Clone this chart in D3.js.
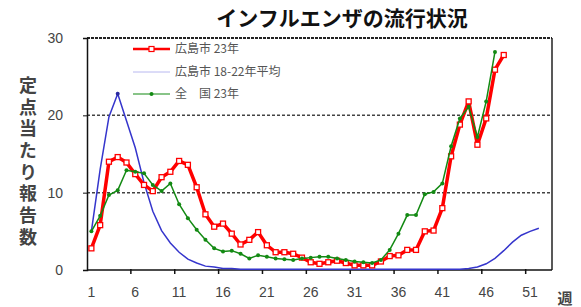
<!DOCTYPE html>
<html>
<head>
<meta charset="utf-8">
<script src="https://cdn.jsdelivr.net/npm/d3@7"></script>
<style>
body { margin: 0; background: #fff; }
svg { display: block; }
</style>
</head>
<body>
<svg></svg>
<script>
// weeks 1..53, labels every 5 weeks
const WEEKS = d3.range(1, 54);
const TICK_WEEKS = [1, 6, 11, 16, 21, 26, 31, 36, 41, 46, 51];
const Y_TICKS = [0, 10, 20, 30];

// 広島市 23年
const hiroshima23 = [2.8, 5.8, 14.0, 14.6, 13.9, 12.4, 11.0, 10.2, 12.0, 12.7,
  14.1, 13.6, 10.7, 7.2, 5.6, 6.0, 4.7, 3.3, 3.9, 4.9,
  3.2, 2.3, 2.3, 2.1, 1.6, 1.0, 0.8, 1.0, 1.2, 0.9,
  0.6, 0.6, 0.6, 1.1, 1.8, 1.9, 2.6, 2.6, 5.0, 5.1,
  8.0, 14.7, 18.8, 21.8, 16.2, 19.6, 25.9, 27.8];

// 広島市 18-22年平均
const hiroshimaAvg = [5.0, 13.0, 19.8, 22.8, 19.3, 15.8, 11.3, 7.6, 5.1, 3.5,
  2.3, 1.4, 0.9, 0.5, 0.4, 0.2, 0.2, 0.1, 0.1, 0.1,
  0.1, 0.1, 0.1, 0.1, 0.1, 0.1, 0.1, 0.1, 0.1, 0.1,
  0.1, 0.1, 0.1, 0.1, 0.1, 0.1, 0.1, 0.1, 0.1, 0.1,
  0.1, 0.1, 0.1, 0.2, 0.4, 0.8, 1.5, 2.5, 3.6, 4.5,
  5.0, 5.4];

// 全国 23年
const national23 = [5.0, 7.0, 9.7, 10.3, 12.9, 12.7, 12.5, 11.0, 10.2, 11.2,
  8.5, 6.7, 5.2, 3.9, 2.8, 2.4, 2.5, 2.1, 1.5, 1.9,
  1.7, 1.5, 1.4, 1.3, 1.5, 1.6, 1.7, 1.7, 1.5, 1.3,
  1.1, 1.0, 0.9, 1.3, 2.6, 4.7, 7.1, 7.1, 9.8, 10.1,
  11.2, 16.0, 19.6, 21.1, 17.2, 21.8, 28.2];

const WIDTH = 581, HEIGHT = 307;
const PLOT = {left: 87, right: 552, top: 38, bottom: 270};

const svg = d3.select('svg')
  .attr('width', WIDTH)
  .attr('height', HEIGHT)
  .style('font-family', '"Liberation Sans", Arial, sans-serif');

const xScale = d3.scaleBand().domain(WEEKS).range([PLOT.left, PLOT.right]).padding(0);
const yScale = d3.scaleLinear().domain([0, 30]).range([PLOT.bottom, PLOT.top]);
const cx = w => xScale(w) + xScale.bandwidth() / 2;

// title
svg.append('text')
  .attr('x', 342).attr('y', 26)
  .attr('text-anchor', 'middle')
  .style('font-family', '"Noto Sans CJK JP", sans-serif')
  .style('font-weight', 'bold')
  .style('font-size', '21px')
  .attr('fill', '#111')
  .text('インフルエンザの流行状況');

// y axis title, one vertical text
svg.append('text')
  .attr('x', 28)
  .attr('y', 76)
  .style('writing-mode', 'vertical-rl')
  .style('text-orientation', 'upright')
  .style('letter-spacing', '3.7px')
  .style('font-family', '"Noto Sans CJK JP", sans-serif')
  .style('font-size', '18px')
  .style('font-weight', 'bold')
  .attr('fill', '#444')
  .text('定点当たり報告数');

// gridlines
svg.append('g').selectAll('line')
  .data([10, 20])
  .enter()
  .append('line')
  .attr('x1', PLOT.left).attr('x2', PLOT.right)
  .attr('y1', d => yScale(d)).attr('y2', d => yScale(d))
  .attr('stroke', '#444')
  .attr('stroke-width', 1.5)
  .attr('stroke-dasharray', '3,2');

// frame: top dashed, right solid
svg.append('line')
  .attr('x1', PLOT.left).attr('x2', PLOT.right)
  .attr('y1', yScale(30)).attr('y2', yScale(30))
  .attr('stroke', '#222').attr('stroke-width', 2).attr('stroke-dasharray', '3,1');
svg.append('line')
  .attr('x1', PLOT.right).attr('x2', PLOT.right)
  .attr('y1', yScale(30)).attr('y2', yScale(0))
  .attr('stroke', '#222').attr('stroke-width', 1.5);

// y axis
const yAxis = svg.append('g')
  .attr('transform', `translate(${PLOT.left},0)`)
  .call(d3.axisLeft(yScale).tickValues(Y_TICKS).tickSize(4).tickPadding(20));
yAxis.select('.domain').attr('stroke', '#111').attr('stroke-width', 1.5);
yAxis.selectAll('.tick line').attr('stroke', '#111');
yAxis.selectAll('text').style('font-size', '14px').attr('fill', '#444');

// x axis: ticks on week boundaries, labels on week centres
const xAxis = svg.append('g').attr('transform', `translate(0,${PLOT.bottom})`);
xAxis.append('line')
  .attr('x1', PLOT.left).attr('x2', PLOT.right)
  .attr('stroke', '#111').attr('stroke-width', 1.5);
xAxis.selectAll('.tk')
  .data(TICK_WEEKS.slice(1))
  .enter()
  .append('line')
  .attr('x1', d => xScale(d)).attr('x2', d => xScale(d))
  .attr('y1', -1).attr('y2', 4)
  .attr('stroke', '#111').attr('stroke-width', 1.5);
xAxis.selectAll('.lbl')
  .data(TICK_WEEKS)
  .enter()
  .append('text')
  .attr('x', d => cx(d))
  .attr('y', 27)
  .attr('text-anchor', 'middle')
  .style('font-size', '14px')
  .attr('fill', '#444')
  .text(d => d);

svg.append('text')
  .attr('x', 565).attr('y', 304)
  .attr('text-anchor', 'middle')
  .style('font-family', '"Noto Sans CJK JP", sans-serif')
  .style('font-size', '15px')
  .style('font-weight', 'bold')
  .attr('fill', '#444')
  .text('週');

const line = d3.line()
  .x((d, i) => cx(WEEKS[i]))
  .y(d => yScale(d));

// blue avg
svg.append('path')
  .datum(hiroshimaAvg)
  .attr('d', line)
  .attr('fill', 'none')
  .attr('stroke', '#3535cc')
  .attr('stroke-width', 1.5);
svg.append('circle')
  .attr('cx', cx(4)).attr('cy', yScale(hiroshimaAvg[3]))
  .attr('r', 2).attr('fill', '#2a2aa0');

// red
svg.append('path')
  .datum(hiroshima23)
  .attr('d', line)
  .attr('fill', 'none')
  .attr('stroke', '#ff0000')
  .attr('stroke-width', 3.5)
  .attr('stroke-linejoin', 'round');
svg.append('g').selectAll('rect')
  .data(hiroshima23)
  .enter()
  .append('rect')
  .attr('x', (d, i) => cx(WEEKS[i]) - 2.5)
  .attr('y', d => yScale(d) - 2.5)
  .attr('width', 5).attr('height', 5)
  .attr('fill', '#fff')
  .attr('stroke', '#ff0000')
  .attr('stroke-width', 1.3);

// green
svg.append('path')
  .datum(national23)
  .attr('d', line)
  .attr('fill', 'none')
  .attr('stroke', '#138a13')
  .attr('stroke-width', 1.5);
svg.append('g').selectAll('circle')
  .data(national23)
  .enter()
  .append('circle')
  .attr('cx', (d, i) => cx(WEEKS[i]))
  .attr('cy', d => yScale(d))
  .attr('r', 2)
  .attr('fill', '#138a13');

// legend
const legend = svg.append('g');
const legendRows = [
  {label: '広島市 23年', color: '#ff0000', width: 2.5, marker: 'square', y: 49},
  {label: '広島市 18-22年平均', color: '#b8b8f0', width: 1, marker: null, y: 72},
  {label: '全　国 23年', color: '#138a13', width: 1.2, marker: 'dot', y: 94}
];
legendRows.forEach(r => {
  legend.append('line')
    .attr('x1', 133).attr('x2', 170)
    .attr('y1', r.y).attr('y2', r.y)
    .attr('stroke', r.color).attr('stroke-width', r.width);
  if (r.marker === 'square') {
    legend.append('rect')
      .attr('x', 149).attr('y', r.y - 2.5)
      .attr('width', 5).attr('height', 5)
      .attr('fill', '#fff').attr('stroke', r.color).attr('stroke-width', 1.2);
  } else if (r.marker === 'dot') {
    legend.append('circle')
      .attr('cx', 151.5).attr('cy', r.y).attr('r', 2).attr('fill', r.color);
  }
  legend.append('text')
    .attr('x', 175).attr('y', r.y + 4)
    .style('font-family', '"Noto Sans CJK JP", sans-serif')
    .style('font-size', '12px')
    .attr('fill', '#555')
    .text(r.label);
});
</script>
</body>
</html>
